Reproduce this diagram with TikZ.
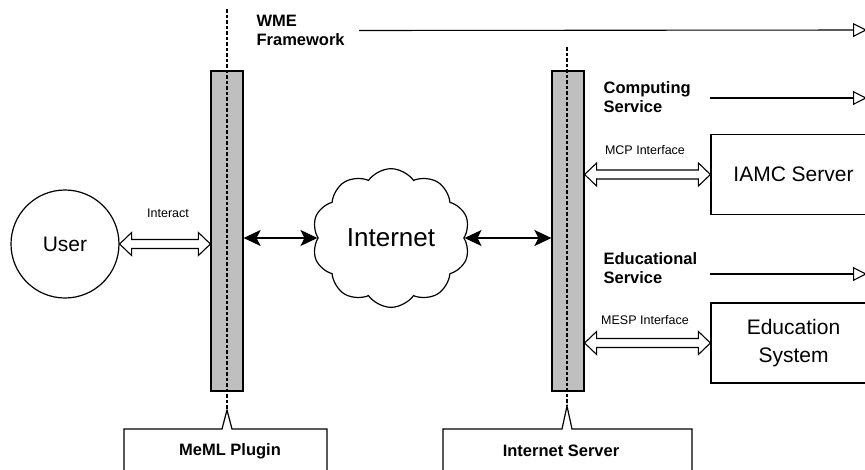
\documentclass[tikz,border=0pt]{standalone}
\usepackage{fontspec}
\setmainfont{Liberation Sans}
\usetikzlibrary{calc, positioning, arrows.meta, shapes.symbols}

% wide two-headed hollow arrow between two points on one level
\newcommand{\hollowlink}[2]{%
  \draw[hollow] (#1) -- ++(12,-11.5) -- ++(0,7) -- ($(#2)+(-12,-4.5)$)
    -- ++(0,-7) -- (#2) -- ++(-12,11.5) -- ++(0,-7)
    -- ($(#1)+(12,4.5)$) -- ++(0,7) -- cycle;}

\begin{document}
\begin{tikzpicture}[x=1pt, y=-1pt, line width=1.2pt,
    bar/.style={draw, fill=gray!50, minimum width=32pt, minimum height=320pt, inner sep=0pt},
    guide/.style={line width=1.1pt, dash pattern=on 3.5pt off 2pt},
    hollow/.style={draw, fill=white, line width=1.1pt, line join=miter},
    blackarrow/.style={{Stealth[length=17pt, width=16pt, inset=4pt]}-{Stealth[length=17pt, width=16pt, inset=4pt]}, line width=1.1pt},
    service/.style={-{Triangle[open, length=14pt, width=14pt]}, line width=1.1pt},
    boxlabel/.style={font=\fontsize{16.5}{19}\selectfont\bfseries, align=left, anchor=west, inner sep=0pt},
    small/.style={font=\fontsize{12.5}{14}\selectfont, inner sep=0pt},
    sysbox/.style={draw, minimum width=165pt, minimum height=80pt, align=center, font=\fontsize{21}{28}\selectfont},
    callout/.style={font=\fontsize{16.5}{19}\selectfont\bfseries, inner sep=0pt},
  ]
  \useasboundingbox (0,0) rectangle (865,469);
  \clip (0,0) rectangle (865,469);

  % the two framework bars
  \node[bar] (plugbar) at (227,231) {};
  \node[bar] (srvbar) at (568,231) {};

  % parties
  \node[draw, circle, minimum size=108pt, inner sep=0pt, font=\fontsize{21}{24}\selectfont] (user) at (65,244) {User};
  \node[draw, cloud, cloud puffs=10, cloud puff arc=110, minimum width=158pt, minimum height=94pt, inner sep=0pt,
        font=\fontsize{26}{30}\selectfont] (net) at (391,238) {Internet};
  \node[sysbox] (iamc) at (793.5,174.5) {IAMC Server};
  \node[sysbox] (edu) at (793.5,343) {Education\\System};

  % service titles
  \node[boxlabel] (wme) at (256,30.5) {WME\\Framework};
  \node[boxlabel] (comp) at (603,97.5) {Computing\\Service};
  \node[boxlabel] (eduserv) at (603,268.5) {Educational\\Service};

  % interface labels
  \node[small] (interact) at (168,213) {Interact};
  \node[small] (mcp) at (645,150) {MCP Interface};
  \node[small] (mesp) at (645,320) {MESP Interface};

  % callouts under the bars
  \coordinate (plugtip) at (227,410);
  \coordinate (srvtip) at (567,406);
  \node[callout] (plugin) at (230,451) {MeML Plugin};
  \node[callout] (server) at (561,451) {Internet Server};
  \draw (124,480) -- (124,429) -- (222,429) -- (plugtip) -- (232,429) -- (327,429) -- (327,480);
  \draw (443,480) -- (443,429) -- (562,429) -- (srvtip) -- (572,429) -- (692,429) -- (692,480);

  \draw[guide] (227,9) -- (plugtip);
  \draw[guide] (567,47) -- (srvtip);

  % links
  \hollowlink{user.east}{plugbar.west |- user.east}
  \draw[blackarrow] (plugbar.east |- net.west) -- (net.west);
  \draw[blackarrow] (net.east) -- (srvbar.west |- net.east);
  \hollowlink{srvbar.east |- iamc.west}{iamc.west}
  \hollowlink{srvbar.east |- edu.west}{edu.west}

  % service arrows
  \coordinate (wmeend) at (867,30);
  \coordinate (compend) at (867,98);
  \coordinate (eduend) at (867,274);
  \draw[service] ([xshift=14pt]wme.east) -- (wmeend);
  \draw[service] (iamc.west |- compend) -- (compend);
  \draw[service] (edu.west |- eduend) -- (eduend);
\end{tikzpicture}
\end{document}
